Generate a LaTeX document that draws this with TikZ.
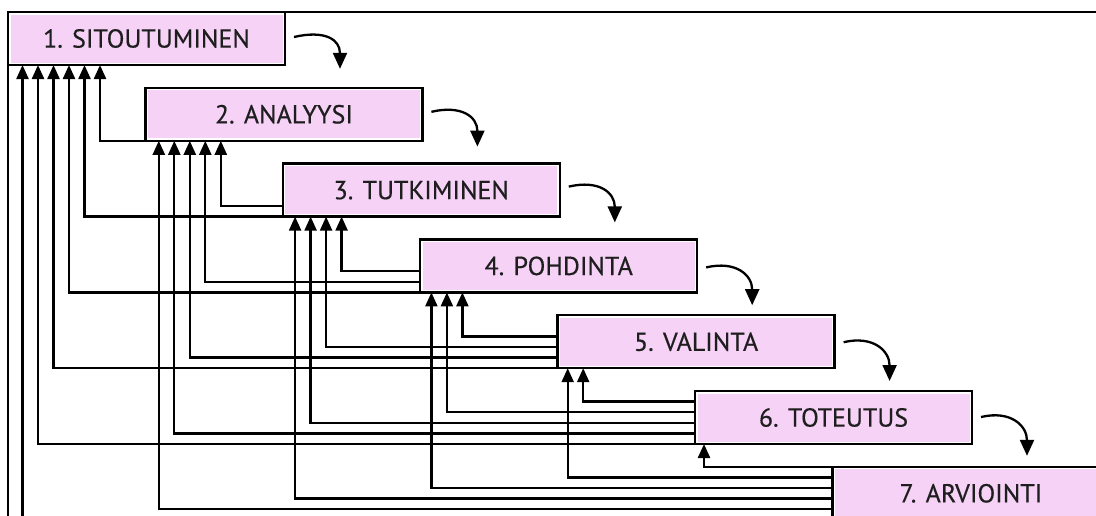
\documentclass[tikz,border=0pt]{standalone}
\usepackage{fontspec}
\setmainfont{PT Sans}[FakeBold=0.4]
\usetikzlibrary{arrows.meta}
\definecolor{boxpink}{RGB}{246,210,246}
\definecolor{inkgray}{RGB}{30,30,30}
\begin{document}
\begin{tikzpicture}[x=1pt,y=-1pt,
  stage/.style={draw=black, line width=2.3pt, fill=white,
    minimum width=277pt, minimum height=53pt, inner sep=0pt, outer sep=0pt,
    anchor=north west, font=\fontsize{26}{28}\selectfont, text=inkgray,
    path picture={\fill[boxpink] ([shift={(2.5pt,-2.5pt)}]path picture bounding box.north west)
      rectangle ([shift={(-2.5pt,2.5pt)}]path picture bounding box.south east);}},
  fb/.style={line width=2.3pt, -{Triangle[length=14pt,width=12pt]}},
  nx/.style={line width=2.3pt, -{Triangle[length=16pt,width=14pt]}},
  frame/.style={line width=2.8pt}
]
\useasboundingbox (0,0) rectangle (1096,515);
\clip (0,0) rectangle (1096,515);
\fill[white] (0,0) rectangle (1096,515);
% outer frame
\draw[frame] (1100,12) -- (8,12) -- (8,520);
% stages
\foreach \i/\t in {1/{1. SITOUTUMINEN},2/{2. ANALYYSI},3/{3. TUTKIMINEN},4/{4. POHDINTA},5/{5. VALINTA},6/{6. TOTEUTUS},7/{7. ARVIOINTI}}{
  \node[stage] (b\i) at ({8+(\i-1)*137.4},{12+(\i-1)*75.8}) {\t};
}
% forward curved arrows
\foreach \i/\sy/\ey in {1/25/-19,2/24/-17,3/23/-17,4/28/-10,5/27/-10,6/26/-11}{
  \pgfmathtruncatemacro\j{\i+1}
  \draw[nx] ([shift={(9,\sy)}]b\i.north east) .. controls +(30,-7) and +(0,-30) .. ([shift={(194.6,\ey)}]b\j.north west);
}
% feedback arrows
\foreach \k in {2,...,7}{
  \pgfmathtruncatemacro\km{\k-1}
  \foreach \j in {1,...,\km}{
    \pgfmathsetmacro\dy{(\j-1)*10.6}
    \pgfmathsetmacro\dx{100+(\j-1)*120.8-(\k-\j-1)*15.5-(8+(\j-1)*137.4)}
    \draw[fb] ([yshift=\dy pt]b\k.south west) -| ([xshift=\dx pt]b\j.south west);
  }
}
\end{tikzpicture}
\end{document}
